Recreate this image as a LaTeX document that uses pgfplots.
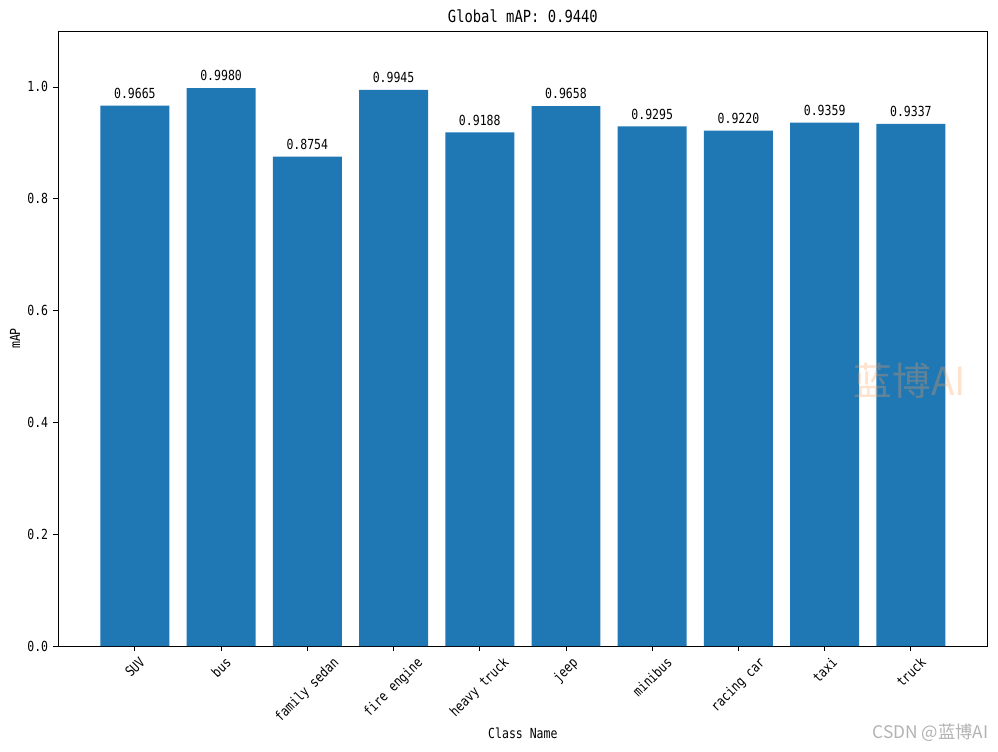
\documentclass[border=0pt]{standalone}
\usepackage{pgfplots}
\pgfplotsset{compat=1.18}
\usepackage{graphicx}
\usepackage{fontspec}
\setmainfont{DejaVu Sans Mono}[FakeStretch=0.83]
\newfontfamily\cjk{Noto Sans CJK SC}
\definecolor{barblue}{RGB}{31,119,180}
\definecolor{wm}{RGB}{250,160,90}
\begin{document}
\fontsize{10.4pt}{12.5pt}\selectfont
\begin{tikzpicture}
\useasboundingbox (0,0) rectangle (748.5pt,563.25pt);
\begin{axis}[
  at={(43.6pt,78.75pt)}, anchor=south west,
  scale only axis, width=697.1pt, height=461.25pt,
  ybar, bar width=0.8,
  xmin=-0.89, xmax=9.89, ymin=0, ymax=1.1,
  axis line style={black, line width=0.6pt},
  tick style={black, line width=0.6pt},
  tick align=outside, major tick length=3.65pt,
  tick pos=left,
  xtick={0,1,2,3,4,5,6,7,8,9},
  xticklabels={\rotatebox{45}{SUV},\rotatebox{45}{bus},\rotatebox{45}{family sedan},\rotatebox{45}{fire engine},\rotatebox{45}{heavy truck},\rotatebox{45}{jeep},\rotatebox{45}{minibus},\rotatebox{45}{racing car},\rotatebox{45}{taxi},\rotatebox{45}{truck}},
  xticklabel style={anchor=north, inner sep=0pt, yshift=-3.65pt},
  ytick={0,0.2,0.4,0.6,0.8,1.0},
  yticklabel style={anchor=east, inner sep=0pt, xshift=-3.65pt,
    /pgf/number format/fixed, /pgf/number format/fixed zerofill, /pgf/number format/precision=1},
  /pgf/number format/assume math mode=true,
  title={Global mAP: 0.9440},
  title style={at={(axis description cs:0.5,1.011)}, anchor=center, inner sep=0pt, font=\fontsize{12.5pt}{14pt}\selectfont},
  xlabel={Class Name},
  xlabel style={at={(axis description cs:0.5,-0.1423)}, anchor=center, inner sep=0pt},
  ylabel={mAP},
  ylabel style={at={(axis description cs:-0.0464,0.5)}, anchor=center, inner sep=0pt},
  nodes near coords,
  point meta=explicit symbolic,
  nodes near coords style={anchor=south, inner sep=0pt, yshift=5pt, text=black},
]
\addplot[fill=barblue, draw=none] coordinates {
  (0,0.9665) [0.9665]
  (1,0.9980) [0.9980]
  (2,0.8754) [0.8754]
  (3,0.9945) [0.9945]
  (4,0.9188) [0.9188]
  (5,0.9658) [0.9658]
  (6,0.9295) [0.9295]
  (7,0.9220) [0.9220]
  (8,0.9359) [0.9359]
  (9,0.9337) [0.9337]
};
\end{axis}
\node[text=wm, opacity=0.3, font=\cjk\fontsize{29pt}{32pt}\selectfont] at (682.5pt,277.5pt) {蓝博AI};
\node[anchor=east, text=gray!60, font=\cjk\fontsize{13pt}{15pt}\selectfont] at (745pt,13.5pt) {CSDN @蓝博AI};
\end{tikzpicture}
\end{document}
